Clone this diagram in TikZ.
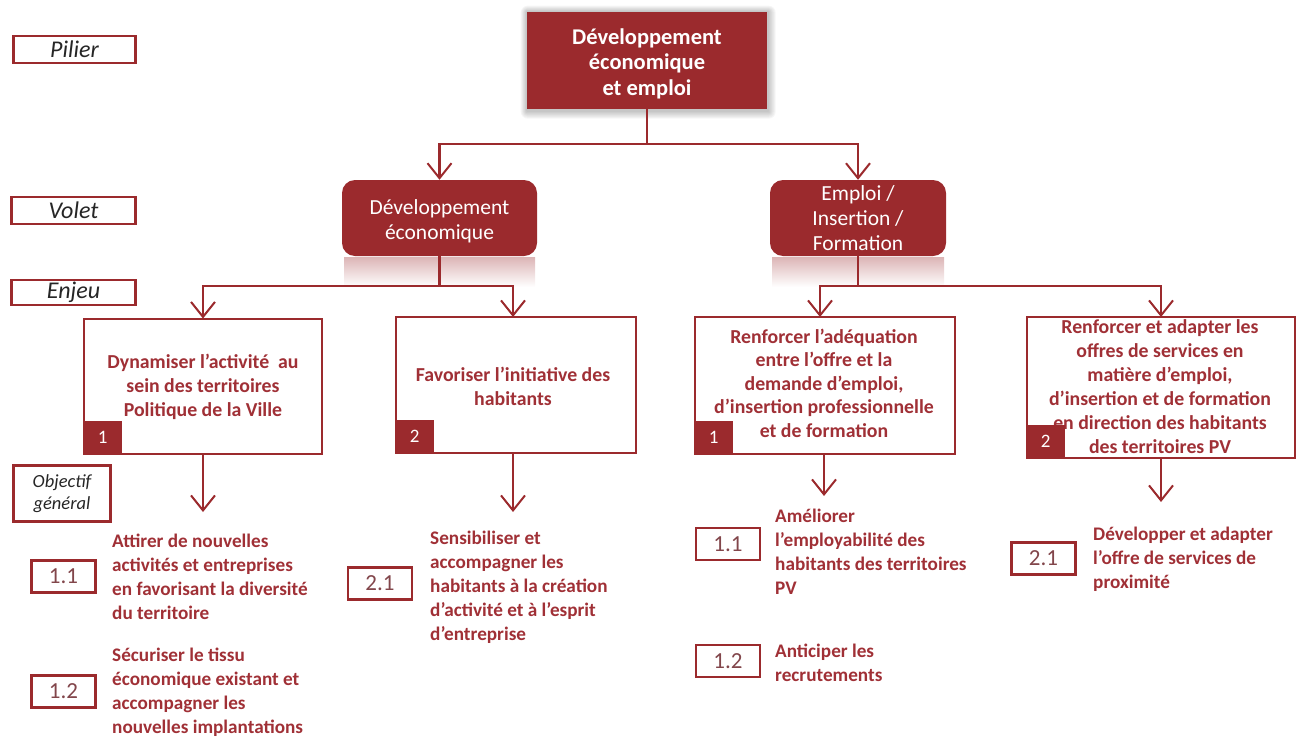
\documentclass[tikz,border=0pt]{standalone}
\usepackage{fontspec}
\setmainfont{Carlito}
\usetikzlibrary{arrows.meta,backgrounds}
\definecolor{wine}{RGB}{155,42,45}
\definecolor{winetxt}{RGB}{160,48,54}
\definecolor{numtxt}{RGB}{130,70,75}
\begin{document}
\begin{tikzpicture}[x=1pt,y=-1pt,
  labelbox/.style={draw=wine, line width=2.8pt, fill=white, text=black!85, inner sep=0pt,
    font=\fontsize{24}{26}\selectfont\itshape},
  pillar/.style={fill=wine, text=white, align=center, inner sep=0pt,
    minimum width=240pt, minimum height=97pt, font=\fontsize{22.5}{25.5}\selectfont\bfseries},
  volet/.style={fill=wine, rounded corners=13pt, text=white, align=center, inner sep=0pt,
    minimum height=76pt, font=\fontsize{21.5}{25}\selectfont},
  enjeu/.style={draw=wine, line width=2pt, fill=white, inner sep=0pt},
  enjeutxt/.style={text=winetxt, align=center, inner sep=0pt,
    font=\fontsize{19.8}{24}\selectfont\bfseries},
  badge/.style={fill=wine, text=white, minimum width=39pt, minimum height=34pt,
    inner sep=0pt, anchor=south west, font=\fontsize{19}{20}\selectfont},
  numbox/.style={draw=wine, line width=2.8pt, fill=white, minimum width=64pt,
    minimum height=32pt, inner sep=0pt, text=numtxt, font=\fontsize{23}{24}\selectfont},
  objtxt/.style={text=winetxt, align=left, anchor=west, inner sep=0pt,
    font=\fontsize{19.2}{24}\selectfont\bfseries},
  conn/.style={draw=wine, line width=2.4pt},
  arr/.style={conn, -{Straight Barb[length=15pt,width=24pt,line width=2pt]}},
  reflect/.style={top color=wine!35, bottom color=white, draw=none}
]
\useasboundingbox (0,0) rectangle (1306,736);

% level labels on the left
\node[labelbox, minimum width=122pt, minimum height=27pt] (pilier) at (74.5,49.5) {Pilier};
\node[labelbox, minimum width=124pt, minimum height=27pt] (volet) at (73.5,210.5) {Volet};
\node[labelbox, minimum width=124pt, minimum height=25pt] (enjeu) at (73.5,292.5) {Enjeu};
\node[labelbox, minimum width=97pt, minimum height=56pt, align=center,
  font=\fontsize{18.5}{22}\selectfont\itshape] (objg) at (62,493.5) {Objectif\\général};

% pillar
\node[pillar] (top) at (647,60.5) {};
\node[text=white, align=center, inner sep=0pt, font=\fontsize{22.5}{25.5}\selectfont\bfseries]
  (toptxt) at (647,63.5) {Développement\\économique\\et emploi};
\begin{scope}[on background layer]
  \foreach \i in {1,...,7}
    \fill[black, opacity=0.035, rounded corners=\i pt]
      (527-\i*0.9, 12-\i*0.9) rectangle (767+\i*1.1+1, 109+\i*1.1+2);
\end{scope}

% volets
\node[volet, minimum width=195pt] (vl) at (439.5,218) {};
\node[text=white, align=center, inner sep=0pt, font=\fontsize{21.5}{25}\selectfont]
  (vltxt) at (439.5,221.5) {Développement\\économique};
\node[volet, minimum width=176pt] (vr) at (858,218) {Emploi /\\Insertion /\\Formation};
\begin{scope}[on background layer]
  \shade[reflect] (344,257) rectangle (535,287);
  \shade[reflect] (772,257) rectangle (944,287);
\end{scope}

% enjeux
\node[enjeu, minimum width=238pt, minimum height=135pt] (e1) at (203,386.5) {};
\node[enjeutxt] at (203,387) {Dynamiser l’activité~ au\\sein des territoires\\Politique de la Ville};
\node[badge] (b1) at (e1.south west) {1};

\node[enjeu, minimum width=240pt, minimum height=136pt] (e2) at (516,385) {};
\node[enjeutxt] at (513,386) {Favoriser l’initiative des\\habitants};
\node[badge] (b2) at (e2.south west) {2};

\node[enjeu, minimum width=260pt, minimum height=137pt] (e3) at (825,385.5) {};
\node[enjeutxt, font=\fontsize{19.8}{23.5}\selectfont\bfseries] at (824,383)
  {Renforcer l’adéquation\\entre l’offre et la\\demande d’emploi,\\d’insertion professionnelle\\et de formation};
\node[badge] (b3) at (e3.south west) {1};

\node[enjeu, minimum width=268pt, minimum height=141pt] (e4) at (1161,387.5) {};
\node[enjeutxt] at (1160,387)
  {Renforcer et adapter les\\offres de services en\\matière d’emploi,\\d’insertion et de formation\\en direction des habitants\\des territoires PV};
\node[badge] (b4) at (e4.south west) {2};

% objectifs opérationnels
\node[numbox] (o11) at (63.5,576.5) {1.1};
\node[objtxt] (t11) at (112,576.5) {Attirer de nouvelles\\activités et entreprises\\en favorisant la diversité\\du territoire};
\node[numbox] (o12) at (63.5,691.5) {1.2};
\node[objtxt] (t12) at (112,692) {Sécuriser le tissu\\économique existant et\\accompagner les\\nouvelles implantations};
\node[numbox] (o21) at (380,583.5) {2.1};
\node[objtxt] (t21) at (430,587.5) {Sensibiliser et\\accompagner les\\habitants à la création\\d’activité et à l’esprit\\d’entreprise};
\node[numbox] (p11) at (728,544) {1.1};
\node[objtxt] (u11) at (775,552) {Améliorer\\l’employabilité des\\habitants des territoires\\PV};
\node[numbox] (p12) at (728,661) {1.2};
\node[objtxt] (u12) at (775,663) {Anticiper les\\recrutements};
\node[numbox] (p21) at (1043.5,558.5) {2.1};
\node[objtxt] (u21) at (1093,559.5) {Développer et adapter\\l’offre de services de\\proximité};

% connectors
\draw[conn] (top.south) -- (647,144) coordinate (jt);
\draw[arr] (jt) -| (vl.north);
\draw[arr] (jt) -| (vr.north);

\draw[conn] (vl.south) -- (439.5,286) coordinate (jl);
\draw[arr] (jl) -| (203,318.5);
\draw[arr] (jl) -| (513,317);
\draw[conn] (vr.south) -- (858,286) coordinate (jr);
\draw[arr] (jr) -| (820,317);
\draw[arr] (jr) -| (1161,317);

\coordinate (a1) at (203,512);
\coordinate (a2) at (513,512);
\coordinate (a3) at (824,496);
\coordinate (a4) at (1161,502);
\draw[arr] (e1.south) -- (a1);
\draw[arr] (e2.south -| a2) -- (a2);
\draw[arr] (e3.south -| a3) -- (a3);
\draw[arr] (e4.south) -- (a4);
\end{tikzpicture}
\end{document}
